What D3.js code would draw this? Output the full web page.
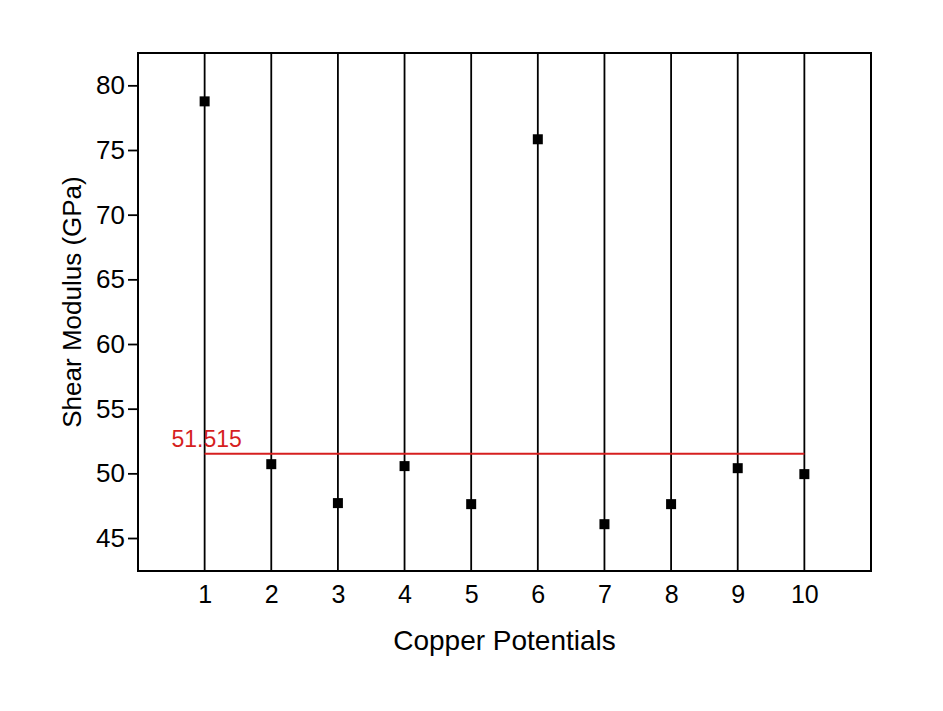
<html lang="en">
<head>
<meta charset="UTF-8">
<title></title>
<script src="https://cdn.jsdelivr.net/npm/d3@7"></script>
<style>
  body { margin: 0; background: #fff; }
  text { font-family: "Liberation Sans", Arial, sans-serif; }
</style>
</head>
<body>
<svg id="viz"></svg>
<script>
// data
var potentials = [1, 2, 3, 4, 5, 6, 7, 8, 9, 10];
var shearModulus = [78.76, 50.71, 47.70, 50.56, 47.62, 75.83, 46.07, 47.62, 50.40, 49.94];
var refValue = 51.515;
var yTicks = [45, 50, 55, 60, 65, 70, 75, 80];

var width = 943, height = 711;
var margin = {left: 138, right: 72, top: 53, bottom: 140};

var svg = d3.select("#viz").attr("width", width).attr("height", height);

var x = d3.scaleLinear().domain([0, 11]).range([margin.left, width - margin.right]);
var y = d3.scaleLinear().domain([42.45, 82.5]).range([height - margin.bottom, margin.top]);

// vertical lines at each category
svg.append("g")
    .selectAll("line")
    .data(potentials)
    .enter()
    .append("line")
    .attr("x1", function(d) { return x(d); })
    .attr("x2", function(d) { return x(d); })
    .attr("y1", y.range()[1])
    .attr("y2", y.range()[0])
    .attr("stroke", "#000")
    .attr("stroke-width", 1.8);

// reference line
svg.append("line")
    .attr("x1", x(1)).attr("x2", x(10))
    .attr("y1", y(refValue)).attr("y2", y(refValue))
    .attr("stroke", "#d61f1f")
    .attr("stroke-width", 1.8);

svg.append("text")
    .attr("x", x(1) + 2)
    .attr("y", y(refValue) - 7)
    .attr("text-anchor", "middle")
    .attr("fill", "#d61f1f")
    .style("font-size", "23px")
    .text(refValue.toFixed(3));

// points
svg.append("g")
    .selectAll("rect")
    .data(potentials)
    .enter()
    .append("rect")
    .attr("x", function(d) { return x(d) - 5; })
    .attr("y", function(d, i) { return y(shearModulus[i]) - 5; })
    .attr("width", 10)
    .attr("height", 10)
    .attr("fill", "#000");

// axes
var yAxis = svg.append("g")
    .attr("transform", "translate(" + margin.left + ",0)")
    .call(d3.axisLeft(y).tickValues(yTicks).tickSize(10).tickPadding(3));
yAxis.select(".domain").remove();
yAxis.selectAll(".tick line").attr("stroke-width", 1.8);
yAxis.selectAll("text").style("font-size", "26px").attr("fill", "#000");

var xAxis = svg.append("g")
    .attr("transform", "translate(0," + (height - margin.bottom) + ")")
    .call(d3.axisBottom(x).tickValues(potentials).tickSize(0).tickPadding(14));
xAxis.select(".domain").remove();
xAxis.selectAll("text").style("font-size", "25px").attr("fill", "#000");

// frame
svg.append("rect")
    .attr("x", x.range()[0])
    .attr("y", y.range()[1])
    .attr("width", x.range()[1] - x.range()[0])
    .attr("height", y.range()[0] - y.range()[1])
    .attr("fill", "none")
    .attr("stroke", "#000")
    .attr("stroke-width", 2);

// titles
svg.append("text")
    .attr("x", (x.range()[0] + x.range()[1]) / 2)
    .attr("y", 650)
    .attr("text-anchor", "middle")
    .style("font-size", "28px")
    .text("Copper Potentials");

svg.append("text")
    .attr("transform", "translate(81,302) rotate(-90)")
    .attr("text-anchor", "middle")
    .style("font-size", "26px")
    .text("Shear Modulus (GPa)");
</script>
</body>
</html>
